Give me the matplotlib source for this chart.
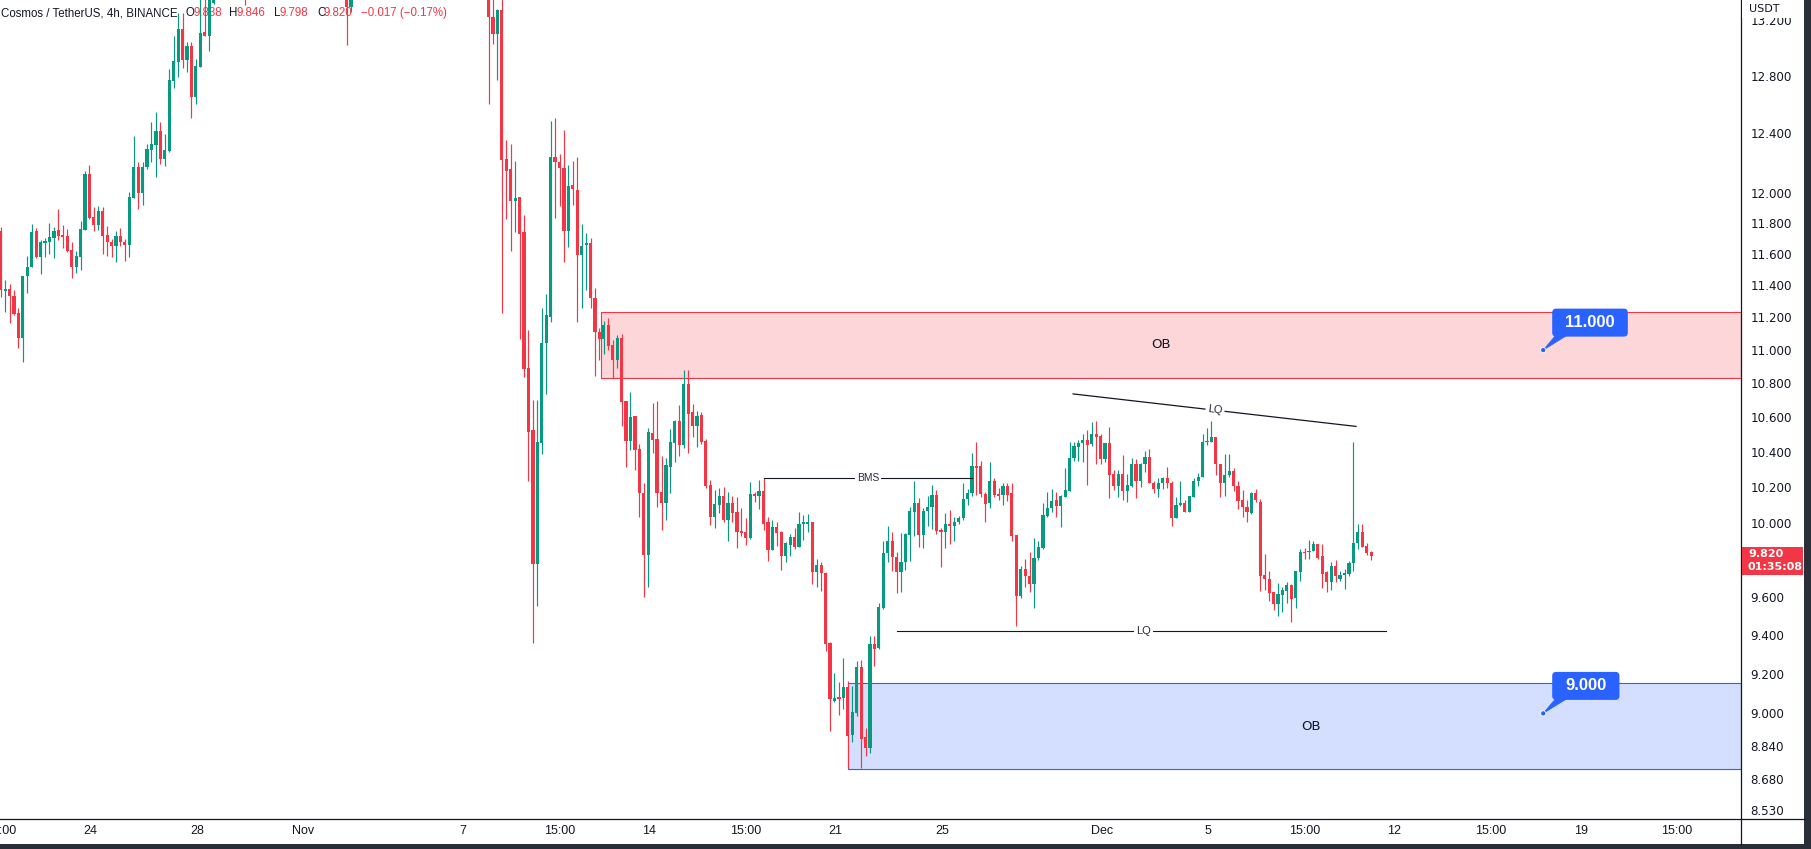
import numpy as np
import pandas as pd
import matplotlib
matplotlib.use("Agg")
import matplotlib.pyplot as plt
from matplotlib.patches import Rectangle, Polygon, Circle, FancyBboxPatch
from matplotlib.lines import Line2D
from matplotlib.transforms import IdentityTransform
from matplotlib.ticker import NullLocator

plt.rcParams['font.family'] = ['Liberation Sans', 'DejaVu Sans']

# ---------------- data (4h candles, ATOM/USDT) ----------------
T0 = pd.Timestamp("2022-10-20 15:00")          # time of candle index 0
candle_index = list(range(0, 49)) + [55, 78, 79] + list(range(110, 310))

opens = [
    11.745, 11.366, 11.380, 11.335, 11.230, 11.072, 11.457, 11.514, 11.745, 11.579,
    11.669, 11.675, 11.701, 11.752, 11.720, 11.713, 11.624, 11.514, 11.579, 11.752,
    12.121, 11.842, 11.784, 11.880, 11.720, 11.675, 11.649, 11.713, 11.675, 11.656,
    11.964, 12.168, 11.997, 12.168, 12.284, 12.318, 12.413, 12.223, 12.277, 12.766,
    12.895, 13.132, 12.910, 13.010, 12.651, 12.860, 13.110, 13.082, 13.326,
    13.7, 13.8, 13.297,
    13.6, 13.225, 13.096, 13.275, 12.223, 12.155, 11.945, 11.970, 11.739, 10.890,
    10.523, 9.772, 10.448, 11.041, 11.206, 12.236, 12.202, 12.162, 11.745, 12.053,
    12.019, 11.591, 11.656, 11.669, 11.322, 11.108, 11.066, 11.151, 11.029, 10.940,
    11.072, 10.695, 10.460, 10.609, 10.415, 10.166, 9.821, 10.506, 10.471, 10.172,
    10.110, 10.315, 10.448, 10.580, 10.437, 10.796, 10.632, 10.546,
    10.615, 10.460, 10.212, 10.034, 10.099, 10.149, 10.017, 10.110, 10.061, 9.952,
    9.946, 9.914, 10.159, 10.149, 10.178, 10.001, 9.849, 9.974, 9.946, 9.816,
    9.876, 9.919, 9.865, 9.995, 9.995, 10.001, 9.729, 9.767, 9.724, 9.355,
    9.062, 9.082, 9.077, 9.134, 8.892, 9.004, 9.232, 8.882, 8.828, 9.350, 9.330,
    9.541, 9.832, 9.898, 9.810, 9.729, 9.783, 9.930, 10.061, 10.110, 9.930,
    10.066, 10.088, 10.154, 9.957, 9.946, 9.995, 9.979, 10.001, 10.028, 10.132,
    10.166, 10.316, 10.316, 10.160, 10.110, 10.235, 10.160, 10.154, 10.207, 10.166,
    9.930, 9.604, 9.745, 9.707, 9.669, 9.805, 9.859, 10.039, 10.082, 10.126,
    10.093, 10.143, 10.178, 10.362, 10.425, 10.448, 10.466, 10.443, 10.500, 10.488,
    10.356, 10.448, 10.270, 10.207,
    10.270, 10.178, 10.207, 10.327, 10.230, 10.327, 10.368, 10.224, 10.189, 10.224,
    10.247, 10.224, 10.023, 10.099, 10.110, 10.061, 10.143, 10.230, 10.253, 10.454,
    10.454, 10.483, 10.327, 10.224, 10.264, 10.287, 10.207, 10.126, 10.088, 10.055,
    10.166, 10.115, 9.713, 9.696, 9.626, 9.561, 9.609, 9.631, 9.663, 9.593,
    9.729, 9.838, 9.838, 9.843, 9.881, 9.816, 9.729, 9.680, 9.761, 9.696,
    9.713, 9.718, 9.778, 9.887, 9.946, 9.870, 9.838,
]
highs = [
    11.771, 11.437, 11.412, 11.373, 11.260, 11.457, 11.585, 11.791, 11.765, 11.688,
    11.701, 11.797, 11.771, 11.893, 11.784, 11.758, 11.675, 11.617, 11.810, 12.141,
    12.182, 11.906, 11.912, 11.906, 11.778, 11.694, 11.745, 11.765, 11.694, 12.004,
    12.379, 12.202, 12.202, 12.325, 12.474, 12.549, 12.474, 12.392, 12.845, 13.082,
    13.254, 13.254, 13.039, 13.039, 12.917, 13.42, 13.45, 13.6, 13.7,
    13.8, 13.9, 13.7,
    13.7, 13.4, 13.282, 13.4, 12.352, 12.325, 12.209, 11.970, 11.855, 11.121,
    10.701, 10.701, 11.260, 11.347, 12.481, 12.508, 12.257, 12.420, 12.182, 12.209,
    12.236, 11.791, 11.733, 11.701, 11.386, 11.133, 11.181, 11.199, 11.060, 11.090,
    11.096, 10.695, 10.747, 10.609, 10.443, 10.224, 10.534, 10.684, 10.695, 10.373,
    10.362, 10.529, 10.586, 10.672, 10.880, 10.880, 10.678, 10.638,
    10.632, 10.471, 10.241, 10.184, 10.195, 10.201, 10.172, 10.149, 10.143, 10.082,
    10.023, 10.228, 10.170, 10.241, 10.247, 10.034, 10.012, 10.001, 9.952, 9.892,
    9.936, 9.968, 10.061, 10.044, 10.050, 10.006, 9.800, 9.783, 9.729, 9.361,
    9.201, 9.155, 9.278, 9.160, 9.139, 9.263, 9.268, 8.926, 9.391, 9.391, 9.567,
    9.898, 9.979, 9.946, 9.838, 9.941, 9.941, 10.088, 10.230, 10.137, 10.082,
    10.149, 10.208, 10.184, 9.968, 10.055, 10.072, 10.034, 10.039, 10.224, 10.189,
    10.390, 10.454, 10.345, 10.172, 10.339, 10.247, 10.195, 10.224, 10.224, 10.224,
    9.930, 9.761, 9.800, 9.838, 9.914, 9.898, 10.110, 10.172, 10.189, 10.172,
    10.154, 10.304, 10.454, 10.454, 10.466, 10.500, 10.523, 10.569, 10.575, 10.500,
    10.448, 10.540, 10.293, 10.293,
    10.379, 10.270, 10.362, 10.356, 10.333, 10.402, 10.414, 10.230, 10.247, 10.253,
    10.310, 10.230, 10.143, 10.235, 10.126, 10.149, 10.247, 10.276, 10.500, 10.534,
    10.575, 10.483, 10.327, 10.385, 10.385, 10.304, 10.235, 10.184, 10.126, 10.172,
    10.189, 10.132, 9.827, 9.734, 9.626, 9.674, 9.653, 9.680, 9.669, 9.734,
    9.854, 9.859, 9.903, 9.898, 9.881, 9.881, 9.734, 9.783, 9.794, 9.734,
    9.745, 9.789, 10.454, 9.995, 9.995, 9.887, 9.846,
]
lows = [
    11.328, 11.236, 11.169, 11.218, 11.011, 10.925, 11.354, 11.514, 11.572, 11.470,
    11.579, 11.598, 11.572, 11.688, 11.636, 11.611, 11.444, 11.476, 11.495, 11.752,
    11.823, 11.745, 11.752, 11.598, 11.585, 11.579, 11.547, 11.649, 11.553, 11.579,
    11.964, 11.893, 11.919, 12.155, 12.202, 12.107, 12.189, 12.175, 12.270, 12.716,
    12.788, 12.852, 12.824, 12.508, 12.603, 12.860, 13.082, 12.974, 13.32,
    13.311, 13.02, 13.26,
    12.603, 13.024, 12.773, 11.230, 11.829, 11.617, 11.739, 11.066, 10.836, 10.230,
    9.355, 9.551, 10.385, 10.737, 11.175, 11.835, 11.912, 11.547, 11.643, 11.919,
    11.175, 11.260, 11.373, 11.260, 10.842, 10.940, 10.975, 10.999, 10.830, 10.894,
    10.551, 10.310, 10.409, 10.293, 10.034, 9.598, 9.651, 10.392, 10.088, 9.957,
    10.012, 10.166, 10.339, 10.373, 10.420, 10.392, 10.483, 10.425,
    10.443, 10.196, 9.985, 9.968, 10.055, 10.001, 9.898, 10.001, 9.859, 9.925,
    9.876, 9.908, 10.115, 10.077, 9.957, 9.789, 9.849, 9.870, 9.740, 9.783,
    9.816, 9.854, 9.865, 9.903, 9.946, 9.669, 9.653, 9.631, 9.314, 8.911,
    9.057, 8.994, 9.023, 8.731, 8.858, 8.989, 8.731, 8.789, 8.804, 9.237, 9.325,
    9.536, 9.783, 9.734, 9.620, 9.626, 9.740, 9.789, 9.925, 9.865, 9.859,
    9.979, 9.963, 9.936, 9.756, 9.859, 9.881, 9.898, 9.995, 10.017, 10.099,
    10.149, 10.154, 10.143, 10.001, 10.082, 10.143, 10.126, 10.099, 10.121, 9.898,
    9.443, 9.593, 9.653, 9.626, 9.541, 9.794, 9.854, 10.034, 10.061, 10.034,
    9.974, 10.143, 10.178, 10.345, 10.345, 10.339, 10.212, 10.431, 10.327, 10.327,
    10.339, 10.137, 10.184, 10.143,
    10.126, 10.115, 10.201, 10.137, 10.201, 10.281, 10.224, 10.166, 10.143, 10.189,
    10.195, 9.979, 10.023, 10.093, 10.061, 10.061, 10.143, 10.207, 10.253, 10.437,
    10.454, 10.264, 10.143, 10.149, 10.258, 10.178, 10.077, 10.034, 10.001, 10.050,
    10.115, 9.631, 9.636, 9.577, 9.529, 9.500, 9.519, 9.567, 9.466, 9.541,
    9.685, 9.800, 9.800, 9.843, 9.800, 9.647, 9.626, 9.636, 9.680, 9.685,
    9.642, 9.707, 9.734, 9.854, 9.865, 9.822, 9.798,
]
closes = [
    11.373, 11.380, 11.335, 11.224, 11.072, 11.457, 11.514, 11.739, 11.579, 11.675,
    11.681, 11.707, 11.745, 11.713, 11.707, 11.617, 11.514, 11.585, 11.758, 12.121,
    11.835, 11.784, 11.880, 11.713, 11.675, 11.649, 11.713, 11.675, 11.656, 11.970,
    12.168, 11.997, 12.168, 12.291, 12.325, 12.413, 12.223, 12.284, 12.773, 12.902,
    13.132, 12.910, 13.010, 12.651, 12.867, 13.103, 13.082, 13.5, 13.6,
    13.5, 13.297, 13.6,
    13.225, 13.096, 13.275, 12.216, 12.141, 11.945, 11.964, 11.726, 10.884, 10.511,
    9.772, 10.454, 11.041, 11.218, 12.236, 12.202, 12.162, 11.745, 12.046, 12.026,
    11.591, 11.649, 11.669, 11.322, 11.108, 11.066, 11.151, 11.023, 10.940, 11.072,
    10.689, 10.460, 10.603, 10.409, 10.166, 9.821, 10.511, 10.466, 10.166, 10.110,
    10.321, 10.454, 10.580, 10.437, 10.796, 10.620, 10.546, 10.609,
    10.454, 10.207, 10.034, 10.104, 10.149, 10.012, 10.110, 10.055, 9.946, 9.941,
    9.914, 10.159, 10.149, 10.178, 9.995, 9.849, 9.974, 9.941, 9.816, 9.887,
    9.919, 9.865, 9.995, 10.001, 10.001, 9.729, 9.767, 9.724, 9.350, 9.072,
    9.077, 9.072, 9.134, 8.887, 9.009, 9.232, 8.872, 8.828, 9.350, 9.325, 9.546,
    9.832, 9.898, 9.810, 9.729, 9.783, 9.936, 10.066, 10.110, 9.930, 10.066,
    10.088, 10.154, 9.952, 9.946, 9.990, 9.979, 10.006, 10.028, 10.132, 10.166,
    10.316, 10.304, 10.160, 10.104, 10.235, 10.154, 10.149, 10.207, 10.154, 9.925,
    9.604, 9.745, 9.707, 9.669, 9.805, 9.865, 10.044, 10.082, 10.121, 10.093,
    10.149, 10.184, 10.362, 10.431, 10.448, 10.466, 10.437, 10.500, 10.483, 10.356,
    10.448, 10.264, 10.207, 10.270,
    10.178, 10.212, 10.327, 10.230, 10.327, 10.368, 10.224, 10.189, 10.224, 10.247,
    10.224, 10.023, 10.099, 10.110, 10.061, 10.149, 10.235, 10.258, 10.454, 10.460,
    10.483, 10.327, 10.224, 10.264, 10.287, 10.207, 10.121, 10.088, 10.061, 10.166,
    10.126, 9.707, 9.691, 9.620, 9.561, 9.615, 9.636, 9.663, 9.587, 9.734,
    9.838, 9.832, 9.843, 9.881, 9.805, 9.718, 9.680, 9.761, 9.707, 9.713,
    9.724, 9.778, 9.887, 9.946, 9.865, 9.832, 9.820,
]

price_ticks = [8.53, 8.68, 8.84, 9.0, 9.2, 9.4, 9.6, 10.0, 10.2, 10.4, 10.6, 10.8,
               11.0, 11.2, 11.4, 11.6, 11.8, 12.0, 12.4, 12.8, 13.2]
time_tick_labels = ["15:00", "24", "28", "Nov", "7", "15:00", "14", "15:00", "21",
                    "25", "Dec", "5", "15:00", "12", "15:00", "19", "15:00"]
time_tick_dates = ["2022-10-20 15:00", "2022-10-24", "2022-10-28", "2022-11-01",
                   "2022-11-07", "2022-11-10 15:00", "2022-11-14", "2022-11-17 15:00",
                   "2022-11-21", "2022-11-25", "2022-12-01", "2022-12-05",
                   "2022-12-08 15:00", "2022-12-12", "2022-12-15 15:00", "2022-12-19",
                   "2022-12-22 15:00"]

# zones / drawings (price levels)
ob_sell = (10.830, 11.236)   # red order block
ob_buy = (8.728, 9.150)      # blue order block
bms_level = 10.247
lq_low_level = 9.42
lq_high_line = ((241.8, 10.737), (305.6, 10.546))
callouts = [("11.000", 11.0), ("9.000", 9.0)]
last_price = 9.820
countdown = "01:35:08"
header_name = "Cosmos / TetherUS, 4h, BINANCE"
header_ohlc = [("O", "9.838"), ("H", "9.846"), ("L", "9.798"), ("C", "9.820")]
header_change = "\u22120.017 (\u22120.17%)"

# ---------------- style / layout ----------------
W, H, DPI = 1811, 849, 100
PANE_R, PANE_B = 1741, 819
FRAME_R, FRAME_B = 1804, 844
GREEN, RED, BLUE = "#089981", "#f23645", "#2962ff"
TXT = "#131722"
X_LIM = (-0.16, 392.4)
Y_LIM = (8.490, 13.347)
HDR_FAMILY, HDR_SIZE = ["Liberation Sans", "DejaVu Sans"], 8.3
AXIS_FAMILY = ["DejaVu Sans"]


def fx(px):
    return px / W


def fy(py):
    return 1 - py / H


fig = plt.figure(figsize=(W / DPI, H / DPI), dpi=DPI)
fig.patch.set_facecolor("white")
ax = fig.add_axes([0, fy(PANE_B), fx(PANE_R), PANE_B / H])
ax.set_facecolor("white")
ax.set_yscale("log")
ax.set_xlim(*X_LIM)
ax.set_ylim(*Y_LIM)

# candles
x = np.array(candle_index, float)
o = np.array(opens); h = np.array(highs); l = np.array(lows); c = np.array(closes)
col = np.where(c >= o, GREEN, RED)
ax.vlines(x, l, h, colors=col, linewidth=0.85, zorder=4)
body_lo = np.minimum(o, c)
body_h = np.maximum(np.abs(c - o), body_lo * 0.0007)
ax.bar(x, body_h, bottom=body_lo, width=0.72, color=col, linewidth=0, zorder=5)

# order blocks
ax.add_patch(Rectangle((135.4, ob_sell[0]), X_LIM[1] - 135.4, ob_sell[1] - ob_sell[0],
                       facecolor=(0.949, 0.212, 0.271, 0.2), edgecolor=RED,
                       linewidth=0.8, zorder=2))
ax.add_patch(Rectangle((191.0, ob_buy[0]), X_LIM[1] - 191.0, ob_buy[1] - ob_buy[0],
                       facecolor=(0.161, 0.384, 1.0, 0.2), edgecolor=BLUE,
                       linewidth=0.8, zorder=2))
ax.text(261.6, np.sqrt(ob_sell[0] * ob_sell[1]), "OB", ha="center", va="center",
        fontsize=9.5, color=TXT, zorder=6, family=AXIS_FAMILY)
ax.text(295.4, np.sqrt(ob_buy[0] * ob_buy[1]), "OB", ha="center", va="center",
        fontsize=9.5, color=TXT, zorder=6, family=AXIS_FAMILY)

# BMS line
lbl_box = dict(facecolor="white", edgecolor="none", pad=1.5)
ax.plot([172.1, 219.0], [bms_level, bms_level], color=TXT, linewidth=0.8, zorder=6)
ax.text(195.6, bms_level, "BMS", ha="center", va="center", fontsize=7.4,
        color="#2a2e39", bbox=lbl_box, zorder=7)

# LQ lines
ax.plot([202.1, 312.4], [lq_low_level, lq_low_level], color=TXT, linewidth=0.8, zorder=6)
ax.text(257.6, lq_low_level, "LQ", ha="center", va="center", fontsize=8,
        color="#2a2e39", bbox=lbl_box, zorder=7)
(xa, ya), (xb, yb) = lq_high_line
ax.plot([xa, xb], [ya, yb], color=TXT, linewidth=0.9, zorder=6)
xm = 273.8
ym = np.exp(np.log(ya) + (np.log(yb) - np.log(ya)) * (xm - xa) / (xb - xa))
ax.text(xm, ym, "LQ", ha="center", va="center", fontsize=8, color="#2a2e39",
        bbox=lbl_box, zorder=7, rotation=-6.6, rotation_mode="anchor")

# axes styling
for s in ("top", "left"):
    ax.spines[s].set_visible(False)
ax.spines["right"].set_color(TXT)
ax.spines["bottom"].set_color(TXT)
ax.spines["right"].set_linewidth(0.9)
ax.spines["bottom"].set_linewidth(0.9)
ax.yaxis.set_ticks_position("right")
ax.set_yticks(price_ticks)
ax.set_yticklabels([f"{t:.3f}" for t in price_ticks], family=AXIS_FAMILY)
ax.yaxis.set_minor_locator(NullLocator())
ax.tick_params(axis="y", length=0, pad=7, labelsize=8.6, colors=TXT)
tpos = [(pd.Timestamp(d) - T0) / pd.Timedelta(hours=4) for d in time_tick_dates]
ax.set_xticks(tpos)
ax.set_xticklabels(time_tick_labels)
ax.tick_params(axis="x", length=0, pad=4, labelsize=9, colors=TXT)

# header (behind candles)
hy = fy(13)
hdr = dict(transform=fig.transFigure, fontsize=HDR_SIZE, va="center", ha="left",
           zorder=1, clip_on=False, family=HDR_FAMILY)
ax.text(fx(1), hy, header_name, color=TXT, **hdr)
hx = [(185, 193), (229, 236), (274, 280), (317, 324)]
for (k, v), (xk, xv) in zip(header_ohlc, hx):
    ax.text(fx(xk), hy, k, color=TXT, **hdr)
    ax.text(fx(xv), hy, v, color=RED, **hdr)
ax.text(fx(361), hy, header_change, color=RED, **hdr)

# frame lines and dark border
fig.add_artist(Line2D([fx(PANE_R), fx(PANE_R)], [fy(FRAME_B), fy(PANE_B)], color=TXT, lw=0.9))
fig.add_artist(Line2D([fx(PANE_R), fx(FRAME_R)], [fy(PANE_B), fy(PANE_B)], color=TXT, lw=0.9))
fig.add_artist(Rectangle((fx(FRAME_R), 0), 1 - fx(FRAME_R), 1, transform=fig.transFigure,
                         facecolor="#2a2e39", edgecolor="none"))
fig.add_artist(Rectangle((0, 0), 1, fy(FRAME_B), transform=fig.transFigure,
                         facecolor="#2a2e39", edgecolor="none"))

# USDT label partly covering the top tick label
fig.add_artist(Rectangle((fx(PANE_R + 1), fy(18)), fx(FRAME_R - PANE_R - 1), 18 / H,
                         transform=fig.transFigure, facecolor="white", edgecolor="none"))
fig.text(fx(1749), fy(9), "USDT", fontsize=8, color=TXT, va="center", ha="left",
         family=AXIS_FAMILY)

# last price label
fig.add_artist(Rectangle((fx(PANE_R + 0.5), fy(575)), fx(FRAME_R - 2 - PANE_R), 28 / H,
                         transform=fig.transFigure, facecolor=RED, edgecolor="none"))
fig.text(fx(1748), fy(554), f"{last_price:.3f}", fontsize=8.0, color="white",
         weight="bold", ha="left", va="center", family=AXIS_FAMILY)
fig.text(fx(1748), fy(567.5), countdown, fontsize=8.0, color="white",
         weight="bold", ha="left", va="center", family=AXIS_FAMILY)

# callouts
fig.canvas.draw()
renderer = fig.canvas.get_renderer()
ident = IdentityTransform()
for text, level in callouts:
    dx, dy = ax.transData.transform((347.8, level))
    t = fig.text(0, 0, text, fontsize=12, color="white", weight="bold",
                 ha="center", va="center", transform=ident, zorder=11)
    tw = t.get_window_extent(renderer).width
    bw, bh = tw + 26, 28
    left, bottom = dx + 9, dy + 13.5
    t.set_position((left + bw / 2, bottom + bh / 2))
    fig.add_artist(Polygon([(left + 4, bottom + 2), (left + 16, bottom + 2), (dx, dy)],
                           closed=True, transform=ident, facecolor=BLUE,
                           edgecolor=BLUE, lw=0.5, zorder=9))
    fig.add_artist(FancyBboxPatch((left, bottom), bw, bh,
                                  boxstyle="round,pad=0,rounding_size=4",
                                  transform=ident, facecolor=BLUE, edgecolor="none",
                                  zorder=10))
    fig.add_artist(Circle((dx, dy), 2.6, transform=ident, facecolor=BLUE,
                          edgecolor="white", lw=0.6, zorder=11))

fig.savefig("out.png", dpi=DPI, facecolor="white")
